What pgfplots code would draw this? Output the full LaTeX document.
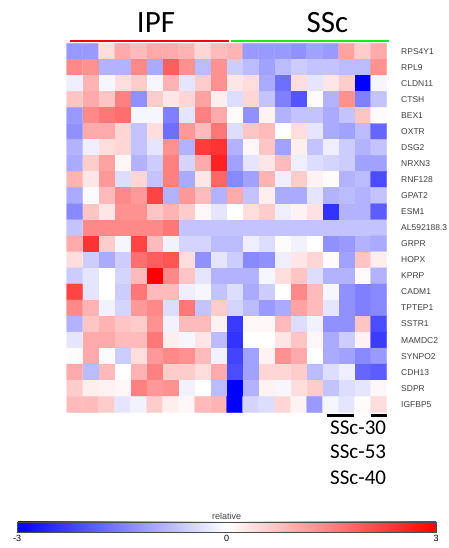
\documentclass[border=0pt]{standalone}
\usepackage{pgfplots}
\pgfplotsset{compat=1.18}
\usepackage{fontspec}
\setmainfont{Liberation Sans}
\newfontfamily\carlito{Carlito}
\definecolor{lblgray}{HTML}{404040}
\definecolor{ipfred}{RGB}{255,0,0}
\definecolor{sscgreen}{RGB}{20,235,20}
\begin{document}
\begin{tikzpicture}[x=1pt,y=1pt]
\useasboundingbox (0,0) rectangle (449,548);
\begin{axis}[
 at={(66.7pt,135.7pt)}, anchor=south west,
 scale only axis, width=320pt, height=369pt,
 xmin=-0.5, xmax=19.5, ymin=-0.5, ymax=22.5, y dir=reverse,
 enlargelimits=false, clip=false,
 axis line style={draw=none},
 xtick=\empty,
 ytick={0,...,22},
 yticklabels={RPS4Y1,RPL9,CLDN11,CTSH,BEX1,OXTR,DSG2,NRXN3,RNF128,GPAT2,ESM1,AL592188.3,GRPR,HOPX,KPRP,CADM1,TPTEP1,SSTR1,MAMDC2,SYNPO2,CDH13,SDPR,IGFBP5},
 ytick pos=left, yticklabel pos=right,
 ytick style={gray, line width=0.5pt}, major tick length=2pt,
 yticklabel style={anchor=west, font=\fontsize{8.5}{10}\selectfont, text=lblgray, xshift=11pt},
 colormap={bwr}{rgb255=(0,0,255) rgb255=(255,255,255) rgb255=(255,0,0)},
 point meta min=-3, point meta max=3,
 colorbar horizontal,
 colorbar style={
   at={(parent axis.south)}, anchor=north, yshift=-100.9pt, xshift=0pt,
   scale only axis, width=419pt, height=10pt,
   xtick={-3,0,3}, xticklabels={-3,0,3},
   xticklabel style={font=\fontsize{9}{10}\selectfont, text=black},
   major tick length=0pt,
   axis line style={draw=black!70},
   title={relative},
   title style={at={(0.5,1)}, anchor=base, yshift=-3.6pt, font=\fontsize{9}{10}\selectfont, text=lblgray},
 },
]
\addplot[matrix plot*, mesh/cols=20, mesh/rows=23, point meta=explicit]
 table[row sep=\\, meta=c] {
x y c\\
0 0 -1.2\\1 0 -1.2\\2 0 0.4\\3 0 1.0\\4 0 0.8\\5 0 1.0\\6 0 1.0\\7 0 0.9\\8 0 0.5\\9 0 0.8\\10 0 0.9\\11 0 -1.2\\12 0 -1.2\\13 0 -1.2\\14 0 -1.3\\15 0 -1.1\\16 0 -1.2\\17 0 1.1\\18 0 0.6\\19 0 1.0\\
0 1 1.4\\1 1 1.3\\2 1 -0.9\\3 1 -0.9\\4 1 1.4\\5 1 -1.0\\6 1 1.9\\7 1 1.3\\8 1 -0.8\\9 1 1.3\\10 1 -0.6\\11 1 -0.8\\12 1 -1.1\\13 1 -0.8\\14 1 -0.6\\15 1 -0.7\\16 1 -0.7\\17 1 -0.8\\18 1 -0.8\\19 1 1.3\\
0 2 -0.2\\1 2 0.9\\2 2 -0.1\\3 2 0.4\\4 2 0.6\\5 2 -0.1\\6 2 0.9\\7 2 -0.3\\8 2 0.6\\9 2 1.3\\10 2 0.3\\11 2 0.4\\12 2 -1.0\\13 2 -1.7\\14 2 0.4\\15 2 -0.3\\16 2 0.3\\17 2 0.6\\18 2 -3.0\\19 2 -0.1\\
0 3 0.7\\1 3 1.0\\2 3 0.7\\3 3 1.5\\4 3 -1.3\\5 3 0.6\\6 3 0.3\\7 3 0.5\\8 3 1.1\\9 3 0.2\\10 3 -0.4\\11 3 0.5\\12 3 -0.7\\13 3 -1.5\\14 3 -2.0\\15 3 0.05\\16 3 -0.9\\17 3 1.3\\18 3 -1.5\\19 3 -0.7\\
0 4 -1.2\\1 4 1.4\\2 4 1.6\\3 4 1.7\\4 4 -0.1\\5 4 -0.1\\6 4 -1.5\\7 4 -0.3\\8 4 1.5\\9 4 1.0\\10 4 0.05\\11 4 -1.3\\12 4 0.15\\13 4 -0.9\\14 4 -0.7\\15 4 -0.7\\16 4 -1.0\\17 4 -0.7\\18 4 0.7\\19 4 0.05\\
0 5 -1.3\\1 5 1.0\\2 5 1.0\\3 5 0.5\\4 5 -0.7\\5 5 0.4\\6 5 -1.7\\7 5 1.2\\8 5 0.8\\9 5 1.6\\10 5 -0.4\\11 5 0.7\\12 5 0.8\\13 5 0\\14 5 0.4\\15 5 -0.3\\16 5 -1.0\\17 5 -1.1\\18 5 -0.8\\19 5 -1.8\\
0 6 -0.9\\1 6 -0.2\\2 6 0.4\\3 6 0.5\\4 6 -0.7\\5 6 -0.3\\6 6 1.3\\7 6 -0.9\\8 6 2.3\\9 6 2.4\\10 6 -0.9\\11 6 0.1\\12 6 0.7\\13 6 -1.1\\14 6 0.2\\15 6 -0.7\\16 6 -0.2\\17 6 -0.6\\18 6 -0.9\\19 6 -0.7\\
0 7 -1.0\\1 7 0.6\\2 7 1.1\\3 7 0.1\\4 7 -0.9\\5 7 -0.6\\6 7 1.5\\7 7 -0.5\\8 7 1.0\\9 7 2.6\\10 7 -1.1\\11 7 -0.3\\12 7 0.3\\13 7 0.8\\14 7 -0.2\\15 7 -0.4\\16 7 -0.5\\17 7 -0.6\\18 7 -1.1\\19 7 -1.1\\
0 8 0.9\\1 8 0.3\\2 8 1.2\\3 8 -0.4\\4 8 0.5\\5 8 -0.7\\6 8 1.5\\7 8 -1.0\\8 8 0.3\\9 8 1.8\\10 8 -1.4\\11 8 -1.1\\12 8 0.9\\13 8 -0.2\\14 8 0.6\\15 8 0.15\\16 8 0.05\\17 8 -0.9\\18 8 -0.8\\19 8 -2.1\\
0 9 -1.0\\1 9 -0.05\\2 9 0.8\\3 9 1.4\\4 9 1.2\\5 9 2.2\\6 9 -0.9\\7 9 1.2\\8 9 0.8\\9 9 -0.9\\10 9 1.0\\11 9 -0.7\\12 9 0.2\\13 9 -1.0\\14 9 -1.0\\15 9 -0.3\\16 9 -0.9\\17 9 -0.8\\18 9 -0.9\\19 9 -0.7\\
0 10 -1.4\\1 10 0.7\\2 10 0.3\\3 10 1.3\\4 10 1.3\\5 10 0.7\\6 10 0.9\\7 10 0.6\\8 10 0.1\\9 10 -0.3\\10 10 0\\11 10 0.4\\12 10 0.6\\13 10 -0.2\\14 10 0.15\\15 10 0.35\\16 10 -2.4\\17 10 -0.9\\18 10 -0.9\\19 10 -1.9\\
0 11 -0.7\\1 11 1.4\\2 11 1.4\\3 11 1.4\\4 11 1.4\\5 11 1.4\\6 11 1.6\\7 11 -0.7\\8 11 -0.7\\9 11 -0.7\\10 11 -0.7\\11 11 -0.7\\12 11 -0.7\\13 11 -0.7\\14 11 -0.7\\15 11 -0.7\\16 11 -0.7\\17 11 -0.7\\18 11 -0.7\\19 11 -0.7\\
0 12 1.0\\1 12 2.4\\2 12 0.6\\3 12 -0.1\\4 12 2.2\\5 12 0.8\\6 12 -0.15\\7 12 -0.5\\8 12 -0.5\\9 12 -0.8\\10 12 -0.8\\11 12 -0.2\\12 12 -0.4\\13 12 0.05\\14 12 -0.15\\15 12 0\\16 12 -1.3\\17 12 -1.2\\18 12 -0.9\\19 12 -1.0\\
0 13 0.4\\1 13 -0.6\\2 13 -1.0\\3 13 -0.6\\4 13 1.7\\5 13 1.9\\6 13 2.0\\7 13 0.4\\8 13 -1.3\\9 13 -0.3\\10 13 -0.6\\11 13 -1.4\\12 13 -1.3\\13 13 -0.2\\14 13 0.3\\15 13 0.5\\16 13 0.05\\17 13 -1.1\\18 13 0.7\\19 13 0.2\\
0 14 -0.6\\1 14 -0.3\\2 14 0\\3 14 -0.5\\4 14 0.8\\5 14 3.0\\6 14 1.4\\7 14 0.7\\8 14 -0.3\\9 14 -0.9\\10 14 -0.9\\11 14 -0.9\\12 14 -0.1\\13 14 0.4\\14 14 0.7\\15 14 -0.4\\16 14 -0.9\\17 14 -0.9\\18 14 0.05\\19 14 -0.9\\
0 15 2.2\\1 15 -0.3\\2 15 0\\3 15 -0.6\\4 15 1.6\\5 15 0.8\\6 15 0.8\\7 15 -0.2\\8 15 -0.1\\9 15 -0.7\\10 15 -0.4\\11 15 -1.0\\12 15 -0.6\\13 15 0\\14 15 1.4\\15 15 0.8\\16 15 -0.1\\17 15 -1.3\\18 15 -1.5\\19 15 -1.4\\
0 16 1.4\\1 16 0.9\\2 16 -0.15\\3 16 -0.5\\4 16 1.2\\5 16 1.4\\6 16 -0.4\\7 16 1.6\\8 16 -0.7\\9 16 0.6\\10 16 -0.5\\11 16 -0.8\\12 16 -1.2\\13 16 -1.0\\14 16 1.1\\15 16 0.8\\16 16 -0.3\\17 16 -1.3\\18 16 -1.5\\19 16 -1.4\\
0 17 -0.9\\1 17 0.7\\2 17 0.9\\3 17 0.7\\4 17 0.6\\5 17 1.3\\6 17 -0.15\\7 17 0.8\\8 17 0.8\\9 17 0.15\\10 17 -2.3\\11 17 0.1\\12 17 0.1\\13 17 0.8\\14 17 -0.4\\15 17 -0.15\\16 17 -1.3\\17 17 -1.3\\18 17 0.7\\19 17 -2.1\\
0 18 -0.3\\1 18 1.0\\2 18 1.0\\3 18 0.8\\4 18 0.8\\5 18 1.6\\6 18 0.2\\7 18 -0.1\\8 18 0.3\\9 18 -0.8\\10 18 -2.4\\11 18 0\\12 18 0\\13 18 0.3\\14 18 0.7\\15 18 0.1\\16 18 -1.0\\17 18 -0.6\\18 18 0.15\\19 18 -2.3\\
0 19 0.05\\1 19 1.0\\2 19 -0.05\\3 19 -0.6\\4 19 0.4\\5 19 1.2\\6 19 1.4\\7 19 1.3\\8 19 0.8\\9 19 -0.15\\10 19 -2.2\\11 19 -1.1\\12 19 0.15\\13 19 1.3\\14 19 1.0\\15 19 0\\16 19 -1.0\\17 19 -1.1\\18 19 -1.4\\19 19 -1.2\\
0 20 1.0\\1 20 -0.8\\2 20 0.8\\3 20 0\\4 20 0.9\\5 20 1.5\\6 20 0.6\\7 20 0.6\\8 20 0.4\\9 20 1.0\\10 20 -2.1\\11 20 -1.1\\12 20 0.5\\13 20 0.5\\14 20 0.6\\15 20 -0.8\\16 20 -0.4\\17 20 -0.2\\18 20 -1.8\\19 20 -1.9\\
0 21 0.6\\1 21 0.2\\2 21 0.15\\3 21 0.1\\4 21 1.5\\5 21 1.2\\6 21 1.3\\7 21 -0.15\\8 21 0\\9 21 -0.8\\10 21 -3.0\\11 21 -0.9\\12 21 0.15\\13 21 -0.1\\14 21 0.4\\15 21 0.6\\16 21 -0.7\\17 21 -0.4\\18 21 -0.3\\19 21 0.1\\
0 22 0.8\\1 22 0.8\\2 22 0.6\\3 22 -0.3\\4 22 -0.15\\5 22 0.6\\6 22 0.2\\7 22 0.1\\8 22 0.8\\9 22 0.9\\10 22 -3.0\\11 22 -0.5\\12 22 -0.4\\13 22 0.5\\14 22 0.15\\15 22 -1.2\\16 22 -0.1\\17 22 -0.3\\18 22 0.05\\19 22 0.4\\
};
\end{axis}
% group titles and bars
\node[anchor=base, font=\carlito\fontsize{31}{31}\selectfont] at (156,515) {IPF};
\node[anchor=base, font=\carlito\fontsize{31}{31}\selectfont] at (327.5,515) {SSc};
\draw[ipfred, line width=2.3pt] (70,507) -- (229,507);
\draw[sscgreen, line width=2.3pt] (231,507) -- (389,507);
\draw[black, line width=2.5pt] (326.7,132.5) -- (354.3,132.5);
\draw[black, line width=2.5pt] (371,132.5) -- (386.7,132.5);
\node[anchor=base west, inner sep=0pt, font=\carlito\fontsize{21}{21}\selectfont] at (330,113) {SSc-30};
\node[anchor=base west, inner sep=0pt, font=\carlito\fontsize{21}{21}\selectfont] at (330,89) {SSc-53};
\node[anchor=base west, inner sep=0pt, font=\carlito\fontsize{21}{21}\selectfont] at (330,63) {SSc-40};
\end{tikzpicture}
\end{document}
